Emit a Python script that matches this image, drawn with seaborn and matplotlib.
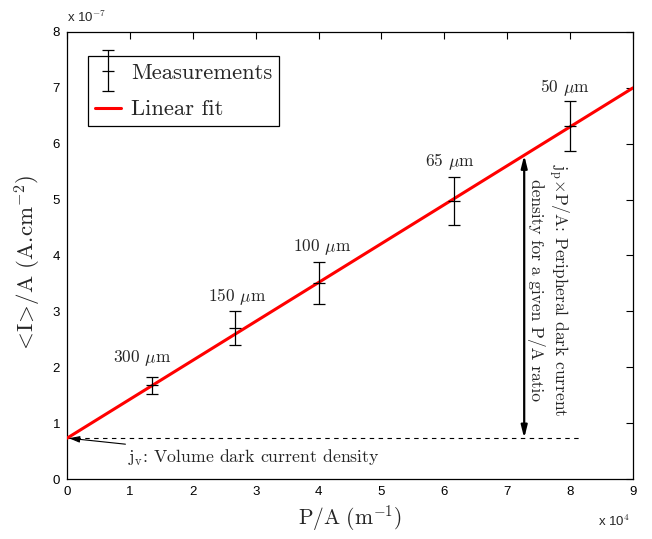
import matplotlib
matplotlib.use("Agg")
import matplotlib.pyplot as plt
import seaborn as sns
import numpy as np
import pandas as pd
from matplotlib.container import ErrorbarContainer
from matplotlib.legend_handler import HandlerErrorbar

# ---- data (x in units of 1e4 m^-1, y in units of 1e-7 A.cm^-2) ----
pa_values = [1.35, 2.67, 4.00, 6.15, 8.00]
current_values = [1.68, 2.70, 3.51, 4.97, 6.32]
error_values = [0.15, 0.30, 0.37, 0.43, 0.45]
size_labels = ["300 $\\mu$m", "150 $\\mu$m", "100 $\\mu$m", "65 $\\mu$m", "50 $\\mu$m"]
label_x = [1.19, 2.70, 4.05, 6.09, 7.92]
label_y = [2.16, 3.27, 4.15, 5.69, 7.01]
fit_x = [0.0, 9.0]
fit_y = [0.73, 7.00]
jv_value = 0.73
dashed_end = 8.19
arrow_x = 7.27

sns.set_theme(style="white")
plt.rcParams["mathtext.fontset"] = "cm"
plt.rcParams["font.family"] = ["Liberation Sans", "DejaVu Sans"]
serif = ["cmr10", "DejaVu Serif"]

fig = plt.figure(figsize=(6.52, 5.39), dpi=100)
ax = fig.add_axes([67/652, 60/539, 566/652, 447/539])

fit_df = pd.DataFrame({"x": fit_x, "y": fit_y})
sns.lineplot(data=fit_df, x="x", y="y", ax=ax, color="red", lw=2.2,
             label="Linear fit", zorder=3)
eb = ax.errorbar(pa_values, current_values, yerr=error_values, fmt="_",
                 color="black", ecolor="black", elinewidth=0.9, capsize=4,
                 capthick=0.9, markersize=8, markeredgewidth=0.9,
                 label="Measurements", zorder=4)

for t, lx, ly in zip(size_labels, label_x, label_y):
    ax.text(lx, ly, t, ha="center", va="center", fontsize=12.5, family=serif)

ax.plot([0, dashed_end], [jv_value, jv_value], color="black", lw=0.8,
        linestyle=(0, (4, 4)))

fit_at_arrow = fit_y[0] + (fit_y[1] - fit_y[0]) / (fit_x[1] - fit_x[0]) * arrow_x
ax.annotate("", xy=(arrow_x, fit_at_arrow), xytext=(arrow_x, jv_value),
            arrowprops=dict(arrowstyle="<|-|>,head_length=0.6,head_width=0.15",
                            color="black", lw=1.6, shrinkA=0, shrinkB=0))
ax.text(7.66, 3.38,
        "j$_\\mathrm{p}$×P/A: Peripheral dark current\ndensity for a given P/A ratio",
        rotation=-90, ha="center", va="center", fontsize=12.5, family=serif,
        linespacing=1.05)

ax.annotate("j$_\\mathrm{v}$: Volume dark current density", xy=(0.03, jv_value),
            xytext=(0.97, 0.38), ha="left", va="center", fontsize=12.8,
            family=serif,
            arrowprops=dict(arrowstyle="-|>,head_length=0.5,head_width=0.15",
                            color="black", lw=0.8, shrinkA=2, shrinkB=0))

ax.set_xlim(0, 9)
ax.set_ylim(0, 8)
ax.set_xticks(range(0, 10))
ax.set_yticks(range(0, 9))
ax.tick_params(direction="in", length=5, width=0.8, top=True, right=True,
               labelsize=9.5, colors="black", pad=5)
for s in ax.spines.values():
    s.set_visible(True)
    s.set_color("black")
    s.set_linewidth(0.9)

ax.set_xlabel(r"$\mathrm{P/A\ (m^{-1})}$", fontsize=15.5, labelpad=4)
ax.set_ylabel(r"$\mathrm{<\!I\!>\!/A\ (A.\!cm^{-2})}$", fontsize=16.5)
ax.yaxis.set_label_coords(-0.042, 0.48)
fig.text(67/652, 1 - 17/539, r"x 10$^{-7}$", fontsize=9.5, ha="left", va="center")
fig.text(598/652, 1 - 521/539, r"x 10$^{4}$", fontsize=9.5, ha="left", va="center")

handles, labels = ax.get_legend_handles_labels()
order = [labels.index("Measurements"), labels.index("Linear fit")]
leg = ax.legend([handles[i] for i in order], [labels[i] for i in order],
                loc="upper left", bbox_to_anchor=((88-67)/566, (479-56)/447),
                borderaxespad=0, fancybox=False,
                frameon=True, edgecolor="black", framealpha=1,
                prop={"family": serif, "size": 16.3}, handlelength=1.15,
                handletextpad=0.45, borderpad=0.3, labelspacing=0.75,
                handler_map={ErrorbarContainer: HandlerErrorbar(xerr_size=0.25, yerr_size=0.9)})
leg.get_frame().set_linewidth(0.9)

fig.savefig("out.png", dpi=100)
